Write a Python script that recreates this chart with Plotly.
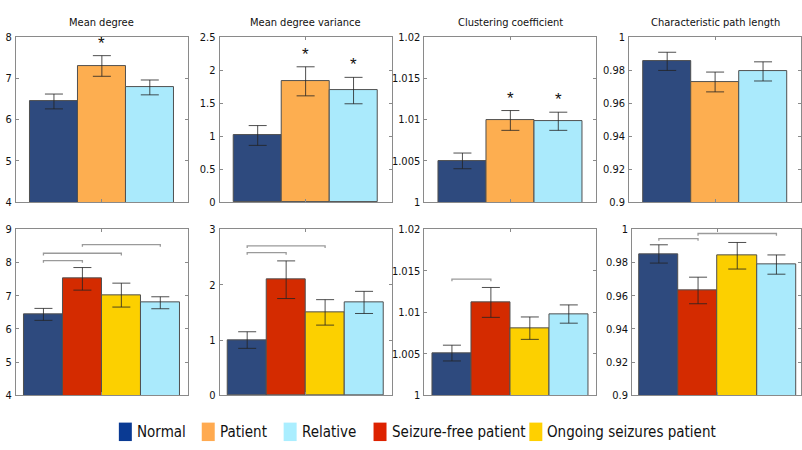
import plotly.graph_objects as go

# ---------------------------------------------------------------- data
titles = ["Mean degree", "Mean degree variance",
          "Clustering coefficient", "Characteristic path length"]

groups_top = ["Normal", "Patient", "Relative"]
groups_bottom = ["Normal", "Seizure-free patient", "Ongoing seizures patient", "Relative"]

# upper row: normal / patient / relative
mean_degree_top = [6.44, 7.30, 6.78]
mean_degree_top_err = [0.18, 0.25, 0.18]
variance_top = [1.01, 1.83, 1.69]
variance_top_err = [0.15, 0.22, 0.20]
clustering_top = [1.0050, 1.0099, 1.0098]
clustering_top_err = [0.00095, 0.0012, 0.0011]
path_length_top = [0.9853, 0.9728, 0.9792]
path_length_top_err = [0.0055, 0.0060, 0.0058]

# lower row: normal / seizure-free / ongoing seizures / relative
mean_degree_bottom = [6.44, 7.51, 7.02, 6.79]
mean_degree_bottom_err = [0.18, 0.34, 0.36, 0.18]
variance_bottom = [1.00, 2.09, 1.50, 1.68]
variance_bottom_err = [0.15, 0.34, 0.23, 0.20]
clustering_bottom = [1.0051, 1.0112, 1.0081, 1.0098]
clustering_bottom_err = [0.00095, 0.0018, 0.00135, 0.0011]
path_length_bottom = [0.9852, 0.9632, 0.9841, 0.9788]
path_length_bottom_err = [0.0055, 0.0080, 0.0080, 0.0058]

# significance: starred bars (1-based) in the upper row
stars_top = [[2], [2, 3], [2, 3], []]
# significance brackets in the lower row: (from bar, to bar, height)
brackets_bottom = [
    [(1, 2, 8.06), (1, 3, 8.28), (2, 4, 8.54)],
    [(1, 2, 2.58), (1, 3, 2.70)],
    [(1, 2, 1.0140)],
    [(1, 2, 0.9944), (2, 4, 0.9975)],
]

y_ranges_top = [(4, 8), (0, 2.5), (1, 1.02), (0.9, 1.0)]
y_dticks_top = [1, 0.5, 0.005, 0.02]
y_ranges_bottom = [(4, 9), (0, 3), (1, 1.02), (0.9, 1.0)]
y_dticks_bottom = [1, 1, 0.005, 0.02]

# ---------------------------------------------------------------- style
W, H = 802, 450
FONT = "DejaVu Sans Condensed, Liberation Sans Narrow, Arial Narrow, sans-serif"
bar_colors = {
    "Normal": "#2E4A7E",
    "Patient": "#FDAE50",
    "Relative": "#AAEAFC",
    "Seizure-free patient": "#D42B00",
    "Ongoing seizures patient": "#FCD000",
}
legend_colors = {
    "Normal": "#0A3A93",
    "Patient": "#FFAA50",
    "Relative": "#AAEEFF",
    "Seizure-free patient": "#DD2200",
    "Ongoing seizures patient": "#FFD000",
}
legend_order = ["Normal", "Patient", "Relative",
                "Seizure-free patient", "Ongoing seizures patient"]

# panel placement in pixels
cols_top_px = [(16, 188), (220, 392), (425, 597), (630, 802)]
cols_bottom_px = [(16, 188), (220, 392), (425, 597), (633, 802)]
row_top_px = (32, 202)
row_bottom_px = (230, 401)
x_ranges_top = [(0.208, 3.792)] * 4
x_ranges_bottom = [(0.295, 4.705)] * 3 + [(0.32, 4.627)]


def px_x(p):
    return p / W


def px_y(p):
    return 1 - p / H


fig = go.Figure()
layout = {}

top_series = [
    (mean_degree_top, mean_degree_top_err),
    (variance_top, variance_top_err),
    (clustering_top, clustering_top_err),
    (path_length_top, path_length_top_err),
]
bottom_series = [
    (mean_degree_bottom, mean_degree_bottom_err),
    (variance_bottom, variance_bottom_err),
    (clustering_bottom, clustering_bottom_err),
    (path_length_bottom, path_length_bottom_err),
]

axis_common = dict(
    showline=True, linecolor="#8a8a8a", linewidth=1, mirror="ticks",
    ticks="inside", ticklen=3, tickcolor="#8a8a8a", showgrid=False,
    zeroline=False, fixedrange=True,
    tickfont=dict(family=FONT, size=11, color="#111111"),
)


def add_panel(idx, groups, values, errs, cols_px, row_px, xr, yr, dtick):
    n = idx + 1
    xa = "x" if n == 1 else f"x{n}"
    ya = "y" if n == 1 else f"y{n}"
    xs = list(range(1, len(groups) + 1))
    fig.add_trace(go.Bar(
        x=xs, y=values, width=1,
        marker=dict(color=[bar_colors[g] for g in groups],
                    line=dict(color="#505050", width=1)),
        error_y=dict(type="data", array=errs, color="rgba(35,35,35,0.8)",
                     thickness=1, width=9),
        xaxis=xa, yaxis=ya, showlegend=False,
    ))
    c0, c1 = cols_px
    r0, r1 = row_px
    layout["xaxis" if n == 1 else f"xaxis{n}"] = dict(
        axis_common, domain=[px_x(c0), min(px_x(c1), 1.0)],
        range=list(xr), anchor=ya,
        tickvals=[(len(groups) + 1) / 2], showticklabels=False,
    )
    layout["yaxis" if n == 1 else f"yaxis{n}"] = dict(
        axis_common, domain=[px_y(r1), px_y(r0)],
        range=list(yr), dtick=dtick, tick0=yr[0], anchor=xa,
        ticklabelstandoff=1,
    )
    return xa, ya


annotations = []
shapes = []

for i in range(4):
    vals, errs = top_series[i]
    xa, ya = add_panel(i, groups_top, vals, errs, cols_top_px[i], row_top_px,
                       x_ranges_top[i], y_ranges_top[i], y_dticks_top[i])
    c0, c1 = cols_top_px[i]
    annotations.append(dict(
        text=titles[i], xref="paper", yref="paper",
        x=px_x((c0 + c1) / 2), y=px_y(17), xanchor="center", yanchor="middle",
        showarrow=False, font=dict(family=FONT, size=11, color="#111111"),
    ))
    for b in stars_top[i]:
        annotations.append(dict(
            text="*", xref=xa, yref=ya, x=b, y=vals[b - 1] + errs[b - 1],
            xanchor="center", yanchor="bottom", yshift=1, showarrow=False,
            font=dict(family="Liberation Sans, Arial, sans-serif", size=17,
                      color="#111111"),
        ))

for i in range(4):
    vals, errs = bottom_series[i]
    xa, ya = add_panel(i + 4, groups_bottom, vals, errs, cols_bottom_px[i],
                       row_bottom_px, x_ranges_bottom[i], y_ranges_bottom[i],
                       y_dticks_bottom[i])
    yr = y_ranges_bottom[i]
    tip = (yr[1] - yr[0]) * 0.013
    for a, b, h in brackets_bottom[i]:
        fig.add_trace(go.Scatter(
            x=[a, a, b, b], y=[h - tip, h, h, h - tip], mode="lines",
            line=dict(color="#9a9a9a", width=1.3),
            xaxis=xa, yaxis=ya, showlegend=False, hoverinfo="skip",
        ))

# legend row along the bottom
legend_x_px = [119, 202, 284, 374, 530]
for name, lx in zip(legend_order, legend_x_px):
    shapes.append(dict(
        type="rect", xref="paper", yref="paper",
        x0=px_x(lx), x1=px_x(lx + 13), y0=px_y(448), y1=px_y(429),
        fillcolor=legend_colors[name], line=dict(width=0),
    ))
    annotations.append(dict(
        text=name, xref="paper", yref="paper", x=px_x(lx + 16), y=px_y(438.5),
        xanchor="left", yanchor="middle", showarrow=False,
        font=dict(family=FONT, size=15, color="#111111"),
    ))

fig.update_layout(
    width=W, height=H, margin=dict(l=0, r=0, t=0, b=0),
    paper_bgcolor="white", plot_bgcolor="white",
    showlegend=False, bargap=0, annotations=annotations, shapes=shapes,
    **layout,
)

fig.write_html("out.html")
